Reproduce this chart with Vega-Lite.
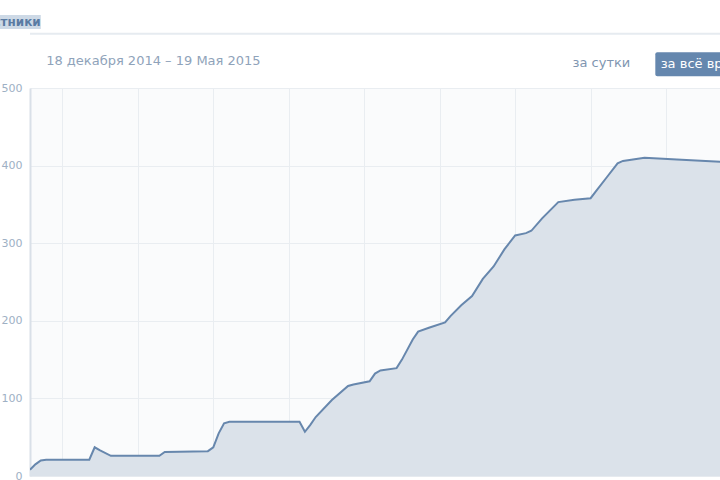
{
  "$schema": "https://vega.github.io/schema/vega-lite/v6.json",
  "autosize": "none",
  "width": 690,
  "height": 388,
  "padding": {"left": 30, "top": 88, "right": 0, "bottom": 4},
  "background": "#ffffff",
  "config": {
    "view": {"fill": "#fafbfc", "stroke": null},
    "font": "DejaVu Sans",
    "text": {"font": "DejaVu Sans"}
  },
  "datasets": {
    "series": [
      {"date": "2014-12-18", "value": 8},
      {"date": "2014-12-19", "value": 15},
      {"date": "2014-12-20", "value": 20},
      {"date": "2014-12-21", "value": 21},
      {"date": "2014-12-29", "value": 21},
      {"date": "2014-12-30", "value": 37},
      {"date": "2014-12-31", "value": 33},
      {"date": "2015-01-02", "value": 26},
      {"date": "2015-01-11", "value": 26},
      {"date": "2015-01-12", "value": 31},
      {"date": "2015-01-20", "value": 32},
      {"date": "2015-01-21", "value": 37},
      {"date": "2015-01-22", "value": 55},
      {"date": "2015-01-23", "value": 68},
      {"date": "2015-01-24", "value": 70},
      {"date": "2015-02-06", "value": 70},
      {"date": "2015-02-07", "value": 57},
      {"date": "2015-02-08", "value": 66},
      {"date": "2015-02-09", "value": 76},
      {"date": "2015-02-12", "value": 98},
      {"date": "2015-02-15", "value": 116},
      {"date": "2015-02-16", "value": 118},
      {"date": "2015-02-19", "value": 122},
      {"date": "2015-02-20", "value": 132},
      {"date": "2015-02-21", "value": 136},
      {"date": "2015-02-24", "value": 139},
      {"date": "2015-02-25", "value": 150},
      {"date": "2015-02-27", "value": 176},
      {"date": "2015-02-28", "value": 186},
      {"date": "2015-03-02", "value": 191},
      {"date": "2015-03-05", "value": 198},
      {"date": "2015-03-06", "value": 206},
      {"date": "2015-03-08", "value": 220},
      {"date": "2015-03-10", "value": 232},
      {"date": "2015-03-12", "value": 254},
      {"date": "2015-03-14", "value": 270},
      {"date": "2015-03-16", "value": 292},
      {"date": "2015-03-18", "value": 310},
      {"date": "2015-03-20", "value": 313},
      {"date": "2015-03-21", "value": 316},
      {"date": "2015-03-23", "value": 332},
      {"date": "2015-03-26", "value": 353},
      {"date": "2015-03-29", "value": 356},
      {"date": "2015-04-01", "value": 358},
      {"date": "2015-04-02", "value": 367},
      {"date": "2015-04-04", "value": 385},
      {"date": "2015-04-06", "value": 403},
      {"date": "2015-04-07", "value": 406},
      {"date": "2015-04-11", "value": 410},
      {"date": "2015-04-17", "value": 408},
      {"date": "2015-04-25", "value": 405},
      {"date": "2015-05-07", "value": 404},
      {"date": "2015-05-19", "value": 404}
    ]
  },
  "layer": [
    {
      "data": {"name": "series"},
      "mark": {
        "type": "area",
        "clip": true,
        "color": "#dbe2ea",
        "opacity": 1,
        "line": {"color": "#6787ad", "strokeWidth": 2}
      },
      "encoding": {
        "x": {
          "field": "date",
          "type": "temporal",
          "scale": {
            "domain": [
              {"year": 2014, "month": 12, "date": 18, "utc": true},
              {"year": 2015, "month": 4, "date": 25, "utc": true}
            ],
            "nice": false
          },
          "axis": {
            "title": null,
            "labels": false,
            "ticks": false,
            "domainColor": "#e6eaef",
            "gridColor": "#e9edf1",
            "values": [
              {"year": 2014, "month": 12, "date": 24, "utc": true},
              {"year": 2015, "month": 1, "date": 7, "utc": true},
              {"year": 2015, "month": 1, "date": 21, "utc": true},
              {"year": 2015, "month": 2, "date": 4, "utc": true},
              {"year": 2015, "month": 2, "date": 18, "utc": true},
              {"year": 2015, "month": 3, "date": 4, "utc": true},
              {"year": 2015, "month": 3, "date": 18, "utc": true},
              {"year": 2015, "month": 4, "date": 1, "utc": true},
              {"year": 2015, "month": 4, "date": 15, "utc": true}
            ]
          }
        },
        "y": {
          "field": "value",
          "type": "quantitative",
          "scale": {"domain": [0, 500], "nice": false},
          "axis": {
            "title": null,
            "values": [0, 100, 200, 300, 400, 500],
            "ticks": false,
            "labelPadding": 8,
            "labelColor": "#9eb0c4",
            "labelFontSize": 11,
            "domainColor": "#d9e0e8",
            "domainWidth": 2,
            "gridColor": "#e9edf1"
          }
        }
      }
    },
    {
      "data": {"values": [{}]},
      "mark": {"type": "rule", "color": "#e6ebf0", "strokeWidth": 2},
      "encoding": {
        "y": {"datum": 570, "type": "quantitative"}
      }
    },
    {
      "data": {"values": [{}]},
      "mark": {"type": "rect", "color": "#cdd9e6"},
      "encoding": {
        "x": {"datum": {"year": 2014, "month": 12, "date": 10, "utc": true}},
        "x2": {"datum": {"year": 2014, "month": 12, "date": 20, "utc": true}},
        "y": {"datum": 594, "type": "quantitative"},
        "y2": {"datum": 576}
      }
    },
    {
      "data": {"values": [{"label": "Участники"}]},
      "mark": {"type": "text", "align": "right", "baseline": "middle", "fontSize": 12, "fontWeight": "bold", "color": "#5a7ba3"},
      "encoding": {
        "x": {"datum": {"year": 2014, "month": 12, "date": 20, "utc": true}},
        "y": {"datum": 585, "type": "quantitative"},
        "text": {"field": "label"}
      }
    },
    {
      "data": {"values": [{"label": "18 декабря 2014 – 19 Мая 2015"}]},
      "mark": {"type": "text", "align": "left", "baseline": "middle", "fontSize": 13, "color": "#8fa3ba"},
      "encoding": {
        "x": {"datum": {"year": 2014, "month": 12, "date": 21, "utc": true}},
        "y": {"datum": 535, "type": "quantitative"},
        "text": {"field": "label"}
      }
    },
    {
      "data": {"values": [{"label": "за сутки"}]},
      "mark": {"type": "text", "align": "center", "baseline": "middle", "fontSize": 13, "color": "#7f96b1"},
      "encoding": {
        "x": {"datum": {"year": 2015, "month": 4, "date": 3, "utc": true}},
        "y": {"datum": 532, "type": "quantitative"},
        "text": {"field": "label"}
      }
    },
    {
      "data": {"values": [{}]},
      "mark": {"type": "rect", "color": "#6587ae", "cornerRadius": 2},
      "encoding": {
        "x": {"datum": {"year": 2015, "month": 4, "date": 13, "utc": true}},
        "x2": {"datum": {"year": 2015, "month": 5, "date": 5, "utc": true}},
        "y": {"datum": 546, "type": "quantitative"},
        "y2": {"datum": 515}
      }
    },
    {
      "data": {"values": [{"label": "за всё время"}]},
      "mark": {"type": "text", "align": "left", "baseline": "middle", "fontSize": 13, "color": "#ffffff"},
      "encoding": {
        "x": {"datum": {"year": 2015, "month": 4, "date": 14, "utc": true}},
        "y": {"datum": 531, "type": "quantitative"},
        "text": {"field": "label"}
      }
    }
  ]
}
